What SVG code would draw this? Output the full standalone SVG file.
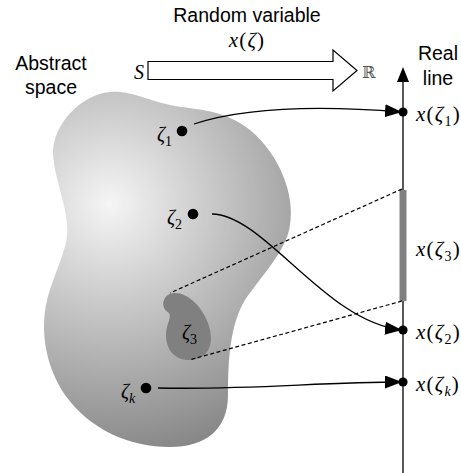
<svg xmlns="http://www.w3.org/2000/svg" width="461" height="473" viewBox="0 0 461 473">
<style>
.sans{font-family:"Liberation Sans",Arial,sans-serif;font-size:19.5px;fill:#000}
.math{font-family:"Liberation Serif","Times New Roman",serif;font-size:20px;fill:#000}
.lab{font-size:21px;letter-spacing:1.2px}
.it{font-style:italic}
.sub{font-size:14px;font-style:normal}
.subit{font-size:14px;font-style:italic}
.dot{fill:#000}
.conn{fill:none;stroke:#000;stroke-width:1.3}
.dash{fill:none;stroke:#000;stroke-width:1.2;stroke-dasharray:4 2.5}
</style>
<defs>
<radialGradient id="g" gradientUnits="userSpaceOnUse" cx="110" cy="204" r="255">
<stop offset="0" stop-color="#f5f5f5"/>
<stop offset="1" stop-color="#868686"/>
</radialGradient>
<marker id="ah" viewBox="0 0 17 13" refX="17" refY="6.5" markerWidth="17" markerHeight="13" markerUnits="userSpaceOnUse" orient="auto">
<path d="M0,0 L17,6.5 L0,13 Z" fill="#000"/>
</marker>
</defs>
<g id="title">
<text class="sans" x="247" y="22" text-anchor="middle">Random variable</text>
<text class="math lab" x="247" y="47" text-anchor="middle"><tspan class="it">x</tspan>(<tspan class="it">ζ</tspan>)</text>
</g>
<g id="abstract-label">
<text class="sans" x="51" y="70" text-anchor="middle">Abstract</text>
<text class="sans" x="51" y="94" text-anchor="middle">space</text>
</g>
<g id="real-label">
<text class="sans" x="438" y="60" text-anchor="middle">Real</text>
<text class="sans" x="438" y="85" text-anchor="middle">line</text>
</g>
<g id="mapping-arrow">
<text class="math it" x="134" y="79" font-size="21">S</text>
<path d="M148,61.5 L333,61.5 L333,50 L357,70.5 L333,91 L333,79.5 L148,79.5 Z" fill="#fff" stroke="#000" stroke-width="1.2"/>
<text x="362" y="78" font-family="DejaVu Serif,serif" font-size="16" fill="#555">ℝ</text>
</g>
<g id="space">
<path d="M110,92 C 130,90 145,100 175,106 C 200,110 225,110 250,130 C 280,155 295,195 290,225 C 287,250 262,275 245,300 C 230,325 228,360 228,395 C 228,430 205,447 170,447 C 130,447 90,430 65,395 C 45,365 40,330 47,300 C 55,270 70,245 67,225 C 65,200 55,180 53,155 C 52,125 80,95 110,92 Z" fill="url(#g)"/>
</g>
<g id="zeta3">
<path d="M175,293 C 193,293 211,318 211,338 C 211,353 201,360 189,360 C 175,360 166,350 166,335 C 166,324 172,318 169,313 C 164,310 162,305 164,300 C 166,295 170,293 175,293 Z" fill="#808080"/>
<text class="math it" x="182" y="339">ζ<tspan class="sub" dy="5">3</tspan></text>
</g>
<g id="axis">
<line x1="403" y1="80" x2="403" y2="473" stroke="#000" stroke-width="1.3"/>
<path d="M397,82 L403,67 L409,82 Z" fill="#000"/>
<rect x="399.5" y="190" width="7" height="111" fill="#808080"/>
</g>
<g id="zeta1">
<circle class="dot" cx="182" cy="131" r="5.3"/>
<text class="math it" x="157" y="141">ζ<tspan class="sub" dy="5">1</tspan></text>
</g>
<g id="zeta2">
<circle class="dot" cx="193" cy="214" r="5.3"/>
<text class="math it" x="167" y="224">ζ<tspan class="sub" dy="5">2</tspan></text>
</g>
<g id="zetak">
<circle class="dot" cx="146" cy="388" r="5.3"/>
<text class="math it" x="121" y="398">ζ<tspan class="subit" dy="5">k</tspan></text>
</g>
<g id="x1">
<circle class="dot" cx="403" cy="112" r="4.6"/>
<text class="math lab" x="416" y="121"><tspan class="it">x</tspan>(<tspan class="it">ζ</tspan><tspan class="sub" dy="5">1</tspan><tspan dy="-5">)</tspan></text>
</g>
<g id="x3">
<text class="math lab" x="416" y="256"><tspan class="it">x</tspan>(<tspan class="it">ζ</tspan><tspan class="sub" dy="5">3</tspan><tspan dy="-5">)</tspan></text>
</g>
<g id="x2">
<circle class="dot" cx="403" cy="330" r="4.6"/>
<text class="math lab" x="416" y="339"><tspan class="it">x</tspan>(<tspan class="it">ζ</tspan><tspan class="sub" dy="5">2</tspan><tspan dy="-5">)</tspan></text>
</g>
<g id="xk">
<circle class="dot" cx="403" cy="382" r="4.6"/>
<text class="math lab" x="416" y="391"><tspan class="it">x</tspan>(<tspan class="it">ζ</tspan><tspan class="subit" dy="5">k</tspan><tspan dy="-5">)</tspan></text>
</g>
<g id="connectors">
<path class="conn" d="M194,124 C 255,104 340,107 402,112" marker-end="url(#ah)"/>
<path class="conn" d="M212,214 C 265,215 325,322 402,330" marker-end="url(#ah)"/>
<path class="conn" d="M158,388 C 250,390 320,382 402,382" marker-end="url(#ah)"/>
<path class="dash" d="M402,189 L170,293"/>
<path class="dash" d="M402,301 L189,360"/>
</g>
</svg>
